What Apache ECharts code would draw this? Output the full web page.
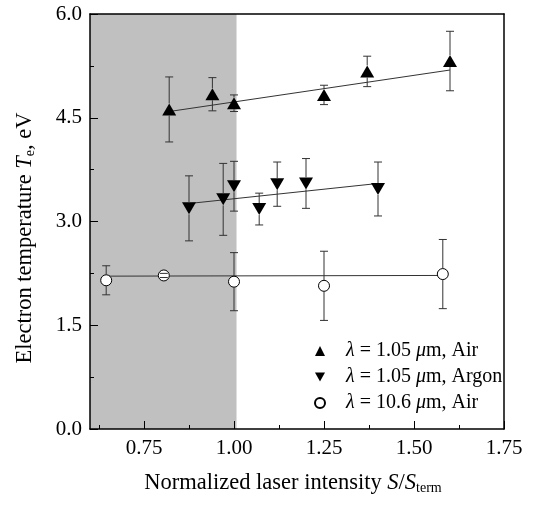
<!DOCTYPE html>
<html><head><meta charset="utf-8">
<script src="https://cdn.jsdelivr.net/npm/echarts@6/dist/echarts.min.js"></script>
<style>html,body{margin:0;padding:0;background:#fff}#c{width:538px;height:510px}</style>
</head><body><div id="c"></div>
<script>
// ---- data ----
const xTicks = [0.75, 1.00, 1.25, 1.50, 1.75];
const xMinorTicks = [0.625, 0.875, 1.125, 1.375, 1.625];
const yTicks = [0, 1.5, 3.0, 4.5, 6.0];
const shadeRange = [0.6, 1.007];

const airX = [0.82, 0.94, 1.00, 1.25, 1.37, 1.60];
const airY = [4.62, 4.84, 4.71, 4.83, 5.17, 5.32];
const airErr = [0.47, 0.24, 0.12, 0.14, 0.22, 0.43];
const airFitX = [0.82, 1.60];
const airFitY = [4.59, 5.19];

const argX = [0.875, 0.97, 1.00, 1.07, 1.12, 1.20, 1.40];
const argY = [3.19, 3.32, 3.51, 3.18, 3.54, 3.55, 3.47];
const argErr = [0.47, 0.52, 0.36, 0.23, 0.32, 0.36, 0.39];
const argFitX = [0.875, 1.40];
const argFitY = [3.26, 3.55];

const co2X = [0.645, 0.805, 1.00, 1.25, 1.58];
const co2Y = [2.15, 2.22, 2.13, 2.07, 2.24];
const co2Err = [0.21, 0.03, 0.42, 0.50, 0.50];
const co2FitX = [0.645, 1.58];
const co2FitY = [2.21, 2.22];

const legendNames = ['air105', 'argon105', 'air106'];
const legendLabels = ['{sp|}{i|λ} = 1.05 {i|μ}m, Air', '{sp|}{i|λ} = 1.05 {i|μ}m, Argon', '{sp|}{i|λ} = 10.6 {i|μ}m, Air'];

// ---- chart ----
const FONT = '"Liberation Serif", "Times New Roman", serif';
const pairs = (xs, ys) => xs.map((x, i) => [x, ys[i]]);

function errSeries(xs, ys, es, gap) {
  return {
    type: 'custom', z: 6, silent: true,
    data: xs.map((x, i) => [x, ys[i], ys[i] - es[i], ys[i] + es[i]]),
    encode: { x: 0, y: [2, 3] },
    renderItem(params, api) {
      const c = api.coord([api.value(0), api.value(1)]);
      const lo = api.coord([api.value(0), api.value(2)]);
      const hi = api.coord([api.value(0), api.value(3)]);
      const w = 4;
      const st = { stroke: '#333', lineWidth: 1 };
      const ch = [
        { type: 'line', shape: { x1: lo[0] - w, y1: lo[1], x2: lo[0] + w, y2: lo[1] }, style: st },
        { type: 'line', shape: { x1: hi[0] - w, y1: hi[1], x2: hi[0] + w, y2: hi[1] }, style: st }
      ];
      if (lo[1] > c[1] + gap) ch.push({ type: 'line', shape: { x1: c[0], y1: c[1] + gap, x2: lo[0], y2: lo[1] }, style: st });
      if (hi[1] < c[1] - gap) ch.push({ type: 'line', shape: { x1: c[0], y1: c[1] - gap, x2: hi[0], y2: hi[1] }, style: st });
      return { type: 'group', children: ch };
    }
  };
}
function fitSeries(xs, ys) {
  return { type: 'line', z: 3, data: pairs(xs, ys), symbol: 'none', silent: true,
    lineStyle: { color: '#333', width: 1 } };
}

const chart = echarts.init(document.getElementById('c'), null, { renderer: 'canvas' });
const tickStyle = { color: '#000', width: 1 };
const labelStyle = { color: '#000', fontFamily: FONT, fontSize: 21 };
chart.setOption({
  animation: false,
  backgroundColor: '#fff',
  textStyle: { fontFamily: FONT, color: '#000' },
  grid: { left: 90, right: 34, top: 14, bottom: 81, containLabel: false },
  xAxis: [
    { type: 'value', min: 0.6, max: 1.75, position: 'bottom', z: 10,
      axisLine: { lineStyle: { color: '#000', width: 1.5 } },
      axisTick: { inside: true, length: 8, customValues: xTicks, lineStyle: tickStyle },
      axisLabel: Object.assign({ customValues: xTicks, formatter: v => v.toFixed(2), margin: 9 }, labelStyle),
      splitLine: { show: false } },
    { type: 'value', min: 0.6, max: 1.75, position: 'bottom', z: 10,
      axisLine: { show: false },
      axisTick: { inside: true, length: 4, customValues: xMinorTicks, lineStyle: tickStyle },
      axisLabel: { show: false }, splitLine: { show: false } },
    { type: 'value', min: 0.6, max: 1.75, position: 'top', z: 10,
      axisLine: { lineStyle: { color: '#000', width: 1.5 } },
      axisTick: { show: false }, axisLabel: { show: false }, splitLine: { show: false } }
  ],
  yAxis: [
    { type: 'value', min: 0, max: 6, interval: 1.5, position: 'left', z: 10,
      axisLine: { show: true, lineStyle: { color: '#000', width: 1.5 } },
      axisTick: { show: true, inside: true, length: 8, lineStyle: tickStyle },
      minorTick: { show: true, splitNumber: 2, length: 4, lineStyle: tickStyle },
      axisLabel: Object.assign({ formatter: v => v.toFixed(1), margin: 8 }, labelStyle),
      splitLine: { show: false } },
    { type: 'value', min: 0, max: 6, position: 'right', z: 10,
      axisLine: { show: true, lineStyle: { color: '#000', width: 1.5 } },
      axisTick: { show: false }, axisLabel: { show: false }, splitLine: { show: false } }
  ],
  legend: {
    orient: 'vertical', left: 309, top: 336, itemWidth: 10, itemHeight: 10, itemGap: 6,
    selectedMode: false,
    data: [
      { name: legendNames[0], icon: 'triangle' },
      { name: legendNames[1], icon: 'path://M0,0L10,0L5,9Z' },
      { name: legendNames[2], icon: 'circle' }
    ],
    formatter: n => legendLabels[legendNames.indexOf(n)],
    textStyle: {
      color: '#000', fontFamily: FONT, fontSize: 20, lineHeight: 20,
      rich: {
        sp: { width: 16 },
        i: { fontStyle: 'italic', fontFamily: FONT, fontSize: 20, color: '#000' }
      }
    }
  },
  graphic: [
    { type: 'text', x: 25, y: 238, rotation: Math.PI / 2, z: 20,
      style: { text: 'Electron temperature {i|T}{sub|e}, eV', fontFamily: FONT, fontSize: 22.5, fill: '#000',
        textAlign: 'center', textVerticalAlign: 'middle', align: 'center', verticalAlign: 'middle',
        rich: { i: { fontStyle: 'italic', fontFamily: FONT, fontSize: 22.5 },
                sub: { fontFamily: FONT, fontSize: 14, verticalAlign: 'bottom', padding: [11, 0, 0, 0] } } } },
    { type: 'text', x: 293, y: 483, z: 20,
      style: { text: 'Normalized laser intensity {i|S}/{i|S}{sub|term}', fontFamily: FONT, fontSize: 22.5, fill: '#000',
        textAlign: 'center', textVerticalAlign: 'middle', align: 'center', verticalAlign: 'middle',
        rich: { i: { fontStyle: 'italic', fontFamily: FONT, fontSize: 22.5 },
                sub: { fontFamily: FONT, fontSize: 14, verticalAlign: 'bottom', padding: [11, 0, 0, 0] } } } }
  ],
  series: [
    { type: 'custom', z: 1, silent: true, data: [[shadeRange[0], shadeRange[1]]],
      encode: { x: [0, 1] },
      renderItem(params, api) {
        const a = api.coord([api.value(0), 6]);
        const b = api.coord([api.value(1), 0]);
        return { type: 'rect', shape: { x: a[0], y: a[1], width: b[0] - a[0], height: b[1] - a[1] },
          style: { fill: '#c0c0c0' } };
      } },
    fitSeries(airFitX, airFitY),
    fitSeries(argFitX, argFitY),
    fitSeries(co2FitX, co2FitY),
    { name: legendNames[0], type: 'scatter', z: 5, data: pairs(airX, airY), symbol: 'triangle',
      symbolSize: [14, 12], itemStyle: { color: '#000', opacity: 1 } },
    { name: legendNames[1], type: 'scatter', z: 5, data: pairs(argX, argY), symbol: 'triangle', symbolRotate: 180,
      symbolSize: [14, 12], itemStyle: { color: '#000', opacity: 1 } },
    { name: legendNames[2], type: 'scatter', z: 5, data: pairs(co2X, co2Y), symbol: 'circle',
      symbolSize: 11, itemStyle: { color: '#fff', borderColor: '#000', borderWidth: 1, opacity: 1 } },
    errSeries(airX, airY, airErr, 6),
    errSeries(argX, argY, argErr, 6),
    errSeries(co2X, co2Y, co2Err, 5.5)
  ]
});
</script>
</body></html>
